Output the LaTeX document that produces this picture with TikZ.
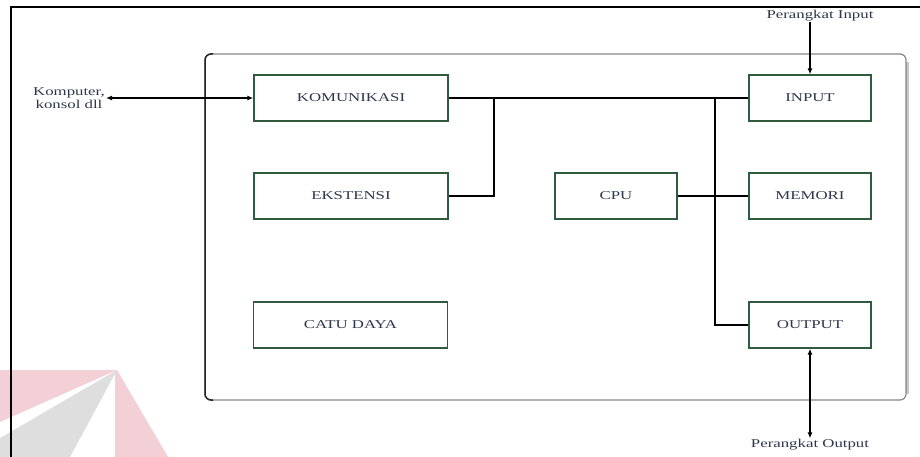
\documentclass[tikz,border=0pt]{standalone}
\usepackage{fontspec}
\setmainfont{Liberation Serif}[FakeStretch=1.4]
\usetikzlibrary{arrows.meta}
\definecolor{boxgreen}{RGB}{47,92,62}
\definecolor{txt}{RGB}{45,55,75}
\definecolor{wmred}{RGB}{242,208,213}
\definecolor{wmgray}{RGB}{222,222,222}
\tikzset{
  blk/.style={draw=boxgreen, line width=1.4pt, minimum height=46pt, inner sep=0pt, text=txt, font=\fontsize{12}{13}\selectfont},
  blkwide/.style={blk, minimum width=194pt},
  blknarrow/.style={blk, minimum width=122pt},
  lbl/.style={text=txt, font=\fontsize{12}{13}\selectfont, inner sep=1pt},
  conn/.style={draw=black, line width=1.1pt},
  tip/.style={-{Latex[length=6pt,width=5pt]}},
  tips/.style={{Latex[length=6pt,width=5pt]}-{Latex[length=6pt,width=5pt]}}
}
\begin{document}
\begin{tikzpicture}[x=1pt,y=-1pt]
\useasboundingbox (0,0) rectangle (920,457);
% watermark
\fill[wmred] (117,370) -- (0,370) -- (0,422) -- cycle;
\fill[wmgray] (117,370) -- (0,438) -- (0,457) -- (70,457) -- cycle;
\fill[wmred] (117,370) -- (115,370) -- (115,457) -- (168,457) -- cycle;
% outer frame
\draw[line width=1.1pt] (920,7) -- (11,7) -- (11,457);
% rounded container
\draw[gray!45, line width=2.8pt] (907.5,62) -- (907.5,394);
\draw[gray!95, line width=1.2pt, rounded corners=6pt] (205,54) rectangle (906,400);
\draw[black!85, line width=1.5pt, rounded corners=6pt] (213,54) -- (205,54) -- (205,400) -- (213,400);
% boxes
\node[blkwide] (kom) at (351,98) {KOMUNIKASI};
\node[blkwide] (eks) at (351,196) {EKSTENSI};
\node[blkwide] (catu) at (350.5,325) {CATU DAYA};
\node[blknarrow] (cpu) at (616,196) {CPU};
\node[blknarrow] (inp) at (810,98) {INPUT};
\node[blknarrow] (mem) at (810,196) {MEMORI};
\node[blknarrow] (out) at (810,325) {OUTPUT};
% labels
\node[lbl, align=center] (komp) at (69,98) {Komputer,\\konsol dll};
\node[lbl] (pin) at (820,16) {Perangkat Input};
\node[lbl] (pout) at (810,445) {Perangkat Output};
% junctions
\coordinate (j1) at (494,98);
\coordinate (j2) at (715,98);
\coordinate (pintop) at (810,22);
% connectors
\draw[conn, tips] (komp.east) -- (kom.west);
\draw[conn] (kom.east) -- (inp.west);
\draw[conn] (eks.east) -| (j1);
\draw[conn] (j2) |- (out.west);
\draw[conn] (cpu.east) -- (mem.west);
\draw[conn, tip] (pintop) -- (inp.north);
\draw[conn, tips] (out.south) -- (pout.north);
\end{tikzpicture}
\end{document}
